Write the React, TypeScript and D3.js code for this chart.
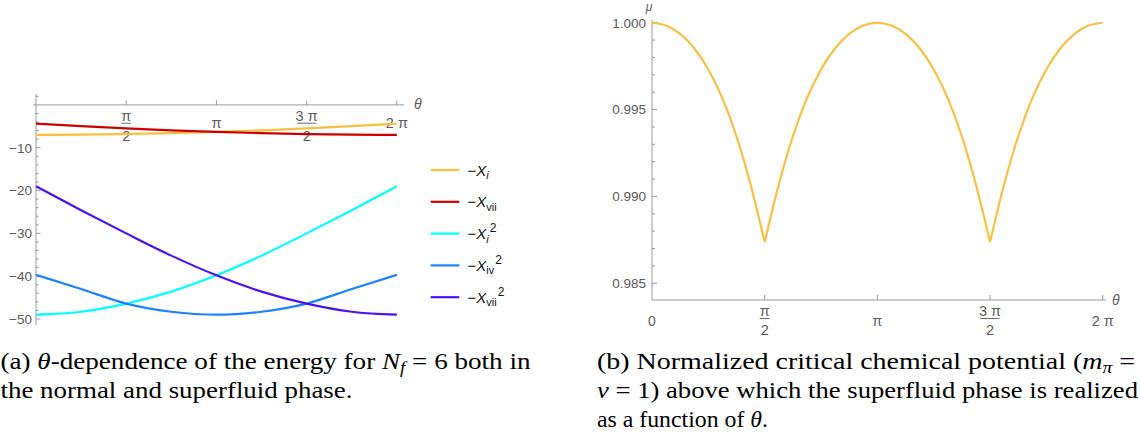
import React from "react";
import * as d3 from "d3";

// θ sample positions, in units of π
const energyTheta = [0, 0.25, 0.5, 0.75, 1, 1.25, 1.5, 1.75, 2];
const negXi = [-7.0, -6.95, -6.81, -6.6, -6.31, -5.93, -5.48, -4.96, -4.36];
const negXvii = [-4.36, -4.96, -5.48, -5.93, -6.31, -6.6, -6.81, -6.95, -7.0];
const negXi2 = [-49.0, -48.3, -46.4, -43.6, -39.8, -35.2, -30.0, -24.6, -19.0];
const negXiv2 = [-39.7, -43.0, -46.4, -48.3, -49.0, -48.3, -46.4, -43.0, -39.7];
const negXvii2 = [-19.0, -24.6, -30.0, -35.2, -39.8, -43.6, -46.4, -48.3, -49.0];

// critical chemical potential, θ in steps of π/16
const muTheta = d3.range(0, 33).map((k) => k / 16);
const muValues = [
  1.0, 0.99984, 0.99936, 0.99853, 0.99731, 0.99565, 0.99346, 0.99068, 0.98737,
  0.99068, 0.99346, 0.99565, 0.99731, 0.99853, 0.99936, 0.99984, 1.0,
  0.99984, 0.99936, 0.99853, 0.99731, 0.99565, 0.99346, 0.99068, 0.98737,
  0.99068, 0.99346, 0.99565, 0.99731, 0.99853, 0.99936, 0.99984, 1.0,
];

const thetaTicks = [0.5, 1, 1.5, 2];
const thetaTickNum = ["π", "π", "3 π", "2 π"];
const thetaTickDen = ["2", "", "2", ""];
const energyTicks = [-10, -20, -30, -40, -50];
const muTicks = [0.985, 0.99, 0.995, 1.0];

const series = [
  { name: "Xi", values: negXi, color: "#F9BF3F", sub: "i", subItalic: true, sup: "" },
  { name: "Xvii", values: negXvii, color: "#CC0000", sub: "vii", subItalic: false, sup: "" },
  { name: "Xi2", values: negXi2, color: "#00FFFF", sub: "i", subItalic: true, sup: "2" },
  { name: "Xiv2", values: negXiv2, color: "#1C82FF", sub: "iv", subItalic: false, sup: "2" },
  { name: "Xvii2", values: negXvii2, color: "#4A12EE", sub: "vii", subItalic: false, sup: "2" },
];

const AXIS = "#9a9a9a";
const LABEL = "#5a5a5a";
const SANS = "Liberation Sans, Arial, sans-serif";
const SERIF = "Liberation Serif, Times New Roman, serif";

function TickLabel({ x, y, num, den, off }) {
  if (!den) {
    return (
      <text x={x} y={y + off.single} textAnchor="middle" fontSize={14.5} fill={LABEL} style={{ fontFamily: SANS }}>
        {num}
      </text>
    );
  }
  const w = num.length > 1 ? 19 : 10;
  return (
    <g fill={LABEL} style={{ fontFamily: SANS }} fontSize={14.5}>
      <text x={x} y={y + off.num} textAnchor="middle">{num}</text>
      <line x1={x - w / 2} x2={x + w / 2} y1={y + off.bar} y2={y + off.bar} stroke={LABEL} strokeWidth={0.9} />
      <text x={x} y={y + off.den} textAnchor="middle">{den}</text>
    </g>
  );
}

function EnergyChart() {
  const x = d3.scaleLinear().domain([0, 2]).range([36, 396.9]);
  const y = d3.scaleLinear().domain([0, -50]).range([104.9, 319]);
  const line = d3
    .line<number>()
    .x((d, i) => x(energyTheta[i]))
    .y((d) => y(d))
    .curve(d3.curveMonotoneX);
  const minor = d3.range(2, -51, -2).filter((v) => v % 10 !== 0);
  const y0 = y(0);
  const off = { num: 15.8, bar: 18.3, den: 36, single: 23 };

  return (
    <g>
      {/* axes */}
      <line x1={33} x2={404} y1={y0} y2={y0} stroke={AXIS} strokeWidth={1} />
      <line x1={x(0)} x2={x(0)} y1={94} y2={325} stroke={AXIS} strokeWidth={1} />
      {minor.map((v) => (
        <line key={"m" + v} x1={x(0)} x2={x(0) + 2.5} y1={y(v)} y2={y(v)} stroke={AXIS} />
      ))}
      {energyTicks.map((v) => (
        <g key={v}>
          <line x1={x(0)} x2={x(0) + 4.5} y1={y(v)} y2={y(v)} stroke={AXIS} />
          <text x={32} y={y(v) + 4.8} textAnchor="end" fontSize={13.5} fill={LABEL} style={{ fontFamily: SANS }}>
            {"−" + Math.abs(v)}
          </text>
        </g>
      ))}
      {thetaTicks.map((t, i) => (
        <g key={t}>
          <line x1={x(t)} x2={x(t)} y1={y0} y2={y0 - 4.5} stroke={AXIS} />
          <TickLabel x={x(t)} y={y0} num={thetaTickNum[i]} den={thetaTickDen[i]} off={off} />
        </g>
      ))}
      <text x={414} y={y0 + 4} fontSize={14} fontStyle="italic" fill={LABEL} style={{ fontFamily: SANS }}>θ</text>

      {series.map((s) => (
        <path key={s.name} d={line(s.values) || ""} fill="none" stroke={s.color} strokeWidth={2.2} />
      ))}

      {/* legend */}
      {series.map((s, i) => {
        const ly = 170 + i * 31.8;
        return (
          <g key={"lg" + s.name}>
            <line x1={430.7} x2={459.3} y1={ly} y2={ly} stroke={s.color} strokeWidth={2.2} />
            <text x={467.5} y={ly + 5.5} fontSize={15} fill="#111" style={{ fontFamily: SANS }}>
              <tspan>−</tspan>
              <tspan fontStyle="italic">X</tspan>
              <tspan dy={3.5} fontSize={11} fontStyle={s.subItalic ? "italic" : "normal"}>{s.sub}</tspan>
              {s.sup ? (
                <tspan dy={-10.5} dx={1} fontSize={12}>{s.sup}</tspan>
              ) : null}
            </text>
          </g>
        );
      })}
    </g>
  );
}

function MuChart() {
  const x = d3.scaleLinear().domain([0, 2]).range([652, 1102.7]);
  const y = d3.scaleLinear().domain([0.985, 1.0]).range([283.3, 22.7]);
  const axisY = 300;
  const line = d3
    .line<number>()
    .x((d) => x(d))
    .y((d) => y(muValues[muTheta.indexOf(d)]))
    .curve(d3.curveMonotoneX);

  // split at the cusps (local minima) so each arch is smooth and the cusps stay sharp
  const cuts = [0];
  for (let i = 1; i < muValues.length - 1; i++) {
    if (muValues[i] < muValues[i - 1] && muValues[i] < muValues[i + 1]) cuts.push(i);
  }
  cuts.push(muValues.length - 1);
  const arches = d3.pairs(cuts).map(([a, b]) => muTheta.slice(a, b + 1));

  const minor = d3.range(986, 1000).map((v) => v / 1000).filter((v) => Math.round(v * 1000) % 5 !== 0);
  const off = { num: 16, bar: 18.5, den: 34.6, single: 25.5 };

  return (
    <g>
      <line x1={x(0)} x2={1106} y1={axisY} y2={axisY} stroke={AXIS} />
      <line x1={x(0)} x2={x(0)} y1={20} y2={axisY} stroke={AXIS} />
      {minor.map((v) => (
        <line key={"m" + v} x1={x(0)} x2={x(0) + 3} y1={y(v)} y2={y(v)} stroke={AXIS} />
      ))}
      {muTicks.map((v) => (
        <g key={v}>
          <line x1={x(0)} x2={x(0) + 5} y1={y(v)} y2={y(v)} stroke={AXIS} />
          <text x={646} y={y(v) + 4.8} textAnchor="end" fontSize={13.5} fill={LABEL} style={{ fontFamily: SANS }}>
            {d3.format(".3f")(v)}
          </text>
        </g>
      ))}
      <text x={x(0)} y={axisY + off.single} textAnchor="middle" fontSize={14} fill={LABEL} style={{ fontFamily: SANS }}>0</text>
      {thetaTicks.map((t, i) => (
        <g key={t}>
          <line x1={x(t)} x2={x(t)} y1={axisY} y2={axisY - 5} stroke={AXIS} />
          <TickLabel x={x(t)} y={axisY} num={thetaTickNum[i]} den={thetaTickDen[i]} off={off} />
        </g>
      ))}
      <text x={1112} y={axisY + 5} fontSize={14} fontStyle="italic" fill={LABEL} style={{ fontFamily: SANS }}>θ</text>
      <text x={649} y={11} textAnchor="middle" fontSize={12} fontStyle="italic" fill={LABEL} style={{ fontFamily: SANS }}>μ</text>

      {arches.map((a, i) => (
        <path key={i} d={line(a) || ""} fill="none" stroke="#F9BF3F" strokeWidth={2.1} />
      ))}
    </g>
  );
}

function Captions() {
  const fs = 23;
  return (
    <g style={{ fontFamily: SERIF }} fontSize={fs} fill="#000">
      <text x={0.5} y={369} textLength={530} lengthAdjust="spacingAndGlyphs">
        (a) <tspan fontStyle="italic">θ</tspan>-dependence of the energy for <tspan fontStyle="italic">N</tspan>
        <tspan dy={4} fontSize={16} fontStyle="italic">f</tspan>
        <tspan dy={-4}> = 6 both in</tspan>
      </text>
      <text x={0.5} y={398} textLength={352} lengthAdjust="spacingAndGlyphs">
        the normal and superfluid phase.
      </text>
      <text x={597} y={369} textLength={538} lengthAdjust="spacingAndGlyphs">
        (b) Normalized critical chemical potential (<tspan fontStyle="italic">m</tspan>
        <tspan dy={4} fontSize={16} fontStyle="italic">π</tspan>
        <tspan dy={-4}> =</tspan>
      </text>
      <text x={597} y={398} textLength={541} lengthAdjust="spacingAndGlyphs">
        <tspan fontStyle="italic">ν</tspan> = 1) above which the superfluid phase is realized
      </text>
      <text x={597} y={427} textLength={171} lengthAdjust="spacingAndGlyphs">
        as a function of <tspan fontStyle="italic">θ</tspan>.
      </text>
    </g>
  );
}

export default function App() {
  return (
    <div style={{ position: "absolute", left: 0, top: 0 }}>
      <svg width={1140} height={439} style={{ display: "block", background: "#fff" }}>
        <EnergyChart />
        <MuChart />
        <Captions />
      </svg>
    </div>
  );
}
